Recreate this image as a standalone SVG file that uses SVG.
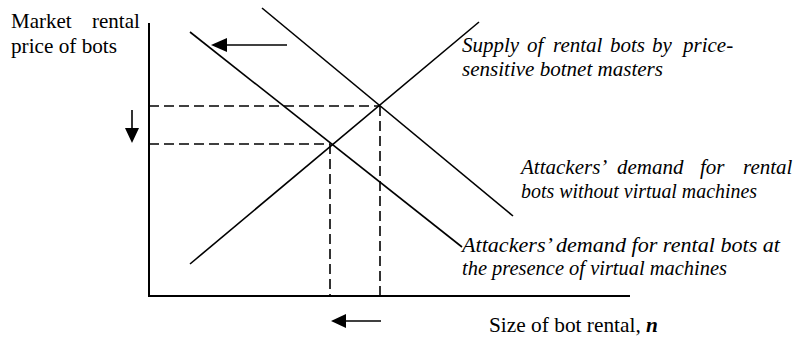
<svg xmlns="http://www.w3.org/2000/svg" width="793" height="340" viewBox="0 0 793 340">
<style>
.ax{stroke:#000;stroke-width:2;fill:none}
.ln{stroke:#000;stroke-width:1.6;fill:none}
.dash{stroke:#000;stroke-width:1.6;fill:none;stroke-dasharray:10,5}
.t{font-family:"Liberation Serif","Times New Roman",serif;font-size:21px;fill:#000}
.i{font-style:italic}
.hd{fill:#000}
</style>
<rect width="793" height="340" fill="#fff"/>
<g id="axes">
<line class="ax" x1="149" y1="23" x2="149" y2="297"/>
<line class="ax" x1="148" y1="296" x2="630" y2="296"/>
</g>
<g id="curves">
<line id="supply" class="ln" x1="190" y1="264" x2="479" y2="22"/>
<line id="demand-vm" class="ln" x1="190" y1="32" x2="462" y2="247"/>
<line id="demand-novm" class="ln" x1="262" y1="8" x2="513" y2="216"/>
</g>
<g id="connectors">
<line class="dash" x1="149" y1="106" x2="380" y2="106"/>
<line class="dash" x1="149" y1="144" x2="330" y2="144"/>
<line class="dash" x1="330" y1="144" x2="330" y2="296"/>
<line class="dash" x1="380" y1="106" x2="380" y2="296"/>
<line class="ln" x1="287" y1="45" x2="222" y2="45"/>
<polygon class="hd" points="211,45 227,38 227,52"/>
<line class="ln" x1="132" y1="110" x2="132" y2="132"/>
<polygon class="hd" points="132,143 125,128 139,128"/>
<line class="ln" x1="381" y1="321" x2="342" y2="321"/>
<polygon class="hd" points="331,321 346,314 346,328"/>
</g>
<g id="labels">
<g id="y-label">
<text class="t" y="28"><tspan x="11">Market</tspan><tspan x="92">rental</tspan></text>
<text class="t" x="11" y="53" textLength="106" lengthAdjust="spacingAndGlyphs">price of bots</text>
</g>
<g id="supply-label">
<text class="t i" y="52"><tspan x="462">Supply</tspan><tspan x="527">of</tspan><tspan x="553">rental</tspan><tspan x="610">bots</tspan><tspan x="652">by</tspan><tspan x="683">price-</tspan></text>
<text class="t i" x="462" y="76" textLength="201" lengthAdjust="spacingAndGlyphs">sensitive botnet masters</text>
</g>
<g id="demand-novm-label">
<text class="t i" y="174"><tspan x="521">Attackers’</tspan><tspan x="617">demand</tspan><tspan x="700">for</tspan><tspan x="743">rental</tspan></text>
<text class="t i" x="521" y="198" textLength="236" lengthAdjust="spacingAndGlyphs">bots without virtual machines</text>
</g>
<g id="demand-vm-label">
<text class="t i" x="462" y="252" textLength="318" lengthAdjust="spacingAndGlyphs">Attackers’ demand for rental bots at</text>
<text class="t i" x="462" y="275" textLength="265" lengthAdjust="spacingAndGlyphs">the presence of virtual machines</text>
</g>
<g id="x-label">
<text class="t" x="489" y="332" textLength="169" lengthAdjust="spacingAndGlyphs">Size of bot rental, <tspan font-weight="bold" font-style="italic">n</tspan></text>
</g>
</g>
</svg>
